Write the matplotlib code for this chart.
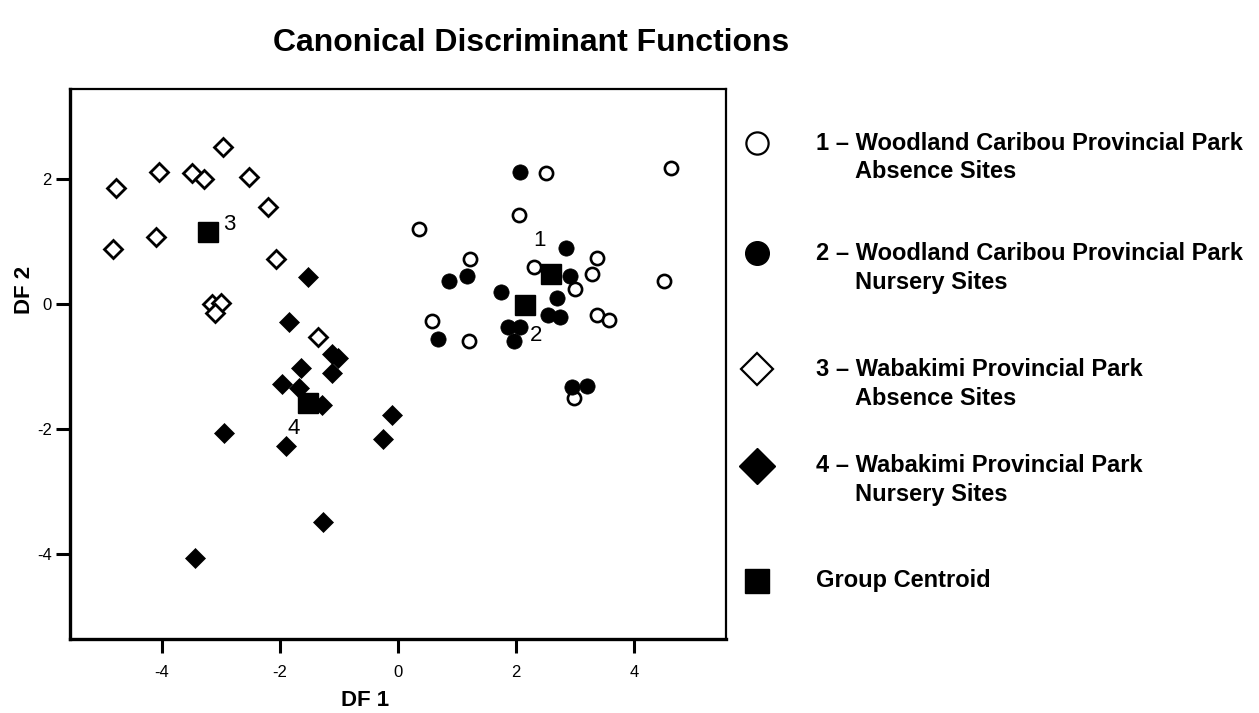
import matplotlib
matplotlib.use("Agg")
import matplotlib.pyplot as plt
from matplotlib.lines import Line2D

plt.rcParams["font.family"] = ["Liberation Sans", "DejaVu Sans"]

# ---- data ----
# 1 - Woodland Caribou PP, absence sites (open circles)
wc_abs_x = [2.51, 4.62, 2.04, 0.36, 1.21, 2.30, 3.37, 3.28, 2.99, 4.50, 0.58, 3.37, 3.57, 1.20, 2.98]
wc_abs_y = [2.11, 2.19, 1.43, 1.21, 0.73, 0.60, 0.74, 0.48, 0.25, 0.37, -0.27, -0.18, -0.25, -0.59, -1.50]

# 2 - Woodland Caribou PP, nursery sites (filled circles)
wc_nur_x = [2.06, 2.84, 2.91, 0.87, 1.16, 1.75, 2.69, 2.54, 2.74, 1.86, 2.07, 1.96, 0.67, 2.94, 3.20]
wc_nur_y = [2.12, 0.90, 0.45, 0.37, 0.45, 0.19, 0.10, -0.17, -0.20, -0.36, -0.37, -0.59, -0.56, -1.33, -1.31]

# 3 - Wabakimi PP, absence sites (open diamonds)
wb_abs_x = [-2.96, -4.04, -3.49, -3.29, -2.52, -4.77, -2.20, -4.83, -4.10, -2.06, -3.15, -3.00, -3.10, -1.35]
wb_abs_y = [2.52, 2.12, 2.10, 2.00, 2.04, 1.86, 1.55, 0.89, 1.08, 0.73, 0.00, 0.02, -0.15, -0.53]

# 4 - Wabakimi PP, nursery sites (filled diamonds)
wb_nur_x = [-1.53, -1.84, -1.12, -1.02, -1.64, -1.11, -1.97, -1.67, -1.28, -0.10, -0.25, -2.94, -1.90, -1.27, -3.43]
wb_nur_y = [0.44, -0.28, -0.80, -0.86, -1.03, -1.11, -1.28, -1.35, -1.62, -1.77, -2.16, -2.07, -2.28, -3.50, -4.07]

# group centroids
cen_x = [2.59, 2.15, -3.21, -1.53]
cen_y = [0.48, -0.02, 1.16, -1.59]
cen_labels = ["1", "2", "3", "4"]
cen_offsets = [(-8, 24), (8, -22), (15, 5), (-10, -18)]  # points

x_ticks = [-4, -2, 0, 2, 4]
y_ticks = [-4, -2, 0, 2]

legend_lines = [
    ("1 \u2013 Woodland Caribou Provincial Park", "Absence Sites"),
    ("2 \u2013 Woodland Caribou Provincial Park", "Nursery Sites"),
    ("3 \u2013 Wabakimi Provincial Park", "Absence Sites"),
    ("4 \u2013 Wabakimi Provincial Park", "Nursery Sites"),
    ("Group Centroid", None),
]

W, H = 1259, 713


def fpos(x, y):
    # pixel -> figure fraction
    return x / W, 1 - y / H


fig = plt.figure(figsize=(W / 100, H / 100), dpi=100)
ax = fig.add_axes([70 / W, 1 - 639 / H, 656 / W, 550 / H])

ax.plot(wc_abs_x, wc_abs_y, "o", ls="none", ms=9.5, mfc="white", mec="black", mew=1.9)
ax.plot(wc_nur_x, wc_nur_y, "o", ls="none", ms=11, mfc="black", mec="black", mew=0.5)
ax.plot(wb_abs_x, wb_abs_y, "D", ls="none", ms=9.5, mfc="white", mec="black", mew=2.0)
ax.plot(wb_nur_x, wb_nur_y, "D", ls="none", ms=10.5, mfc="black", mec="black", mew=0.5)
ax.plot(cen_x, cen_y, "s", ls="none", ms=14, mfc="black", mec="black")

for x, y, lab, off in zip(cen_x, cen_y, cen_labels, cen_offsets):
    ax.annotate(lab, (x, y), xytext=off, textcoords="offset points",
                ha="center", va="center", fontsize=16)

ax.set_xlim(-5.55, 5.55)
ax.set_ylim(-5.37, 3.45)
ax.set_xticks(x_ticks)
ax.set_xticklabels([str(t) for t in x_ticks])
ax.set_yticks(y_ticks)
ax.set_yticklabels([str(t) for t in y_ticks])
ax.tick_params(direction="out", length=10, width=2.2, labelsize=12)
ax.tick_params(axis="x", pad=9)
ax.tick_params(axis="y", pad=3)
for side in ["left", "bottom"]:
    ax.spines[side].set_linewidth(2.4)
for side in ["top", "right"]:
    ax.spines[side].set_linewidth(1.6)

fig.text(*fpos(365, 700), "DF 1", ha="center", va="center", fontsize=16, fontweight="bold")
fig.text(*fpos(24, 290), "DF 2", ha="center", va="center", fontsize=16,
         fontweight="bold", rotation=90)
fig.text(*fpos(531, 43), "Canonical Discriminant Functions", ha="center", va="center",
         fontsize=23, fontweight="bold")

# manual legend to the right of the axes
leg_y = [143, 253, 369, 466, 581]
leg_markers = [
    dict(marker="o", ms=16, mfc="white", mec="black", mew=1.6),
    dict(marker="o", ms=17, mfc="black", mec="black"),
    dict(marker="D", ms=16, mfc="white", mec="black", mew=1.6),
    dict(marker="D", ms=18, mfc="black", mec="black"),
    dict(marker="s", ms=17, mfc="black", mec="black"),
]
for yy, mk, (l1, l2) in zip(leg_y, leg_markers, legend_lines):
    mx, my = fpos(757, yy)
    fig.add_artist(Line2D([mx], [my], ls="none", transform=fig.transFigure, **mk))
    fig.text(*fpos(816, yy), l1, ha="left", va="center", fontsize=17, fontweight="bold")
    if l2 is not None:
        fig.text(*fpos(855, yy + 29), l2, ha="left", va="center", fontsize=17, fontweight="bold")

fig.savefig("out.png", dpi=100)
